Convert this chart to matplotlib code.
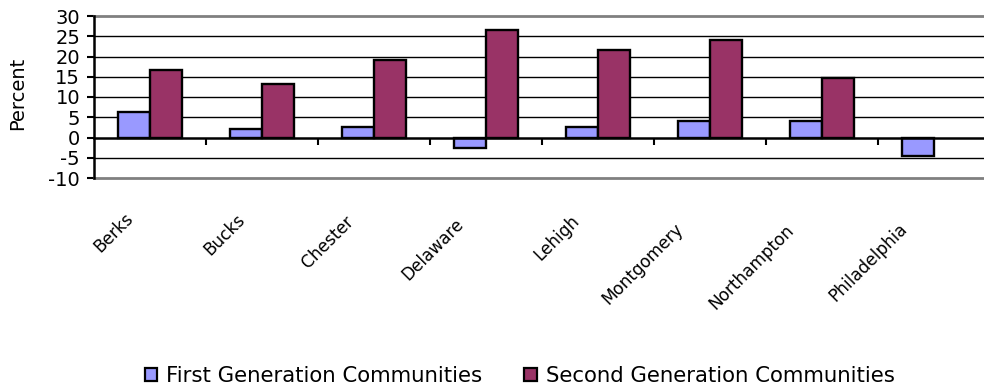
import matplotlib
matplotlib.use("Agg")
import matplotlib.pyplot as plt
from matplotlib.patches import Patch
from matplotlib.transforms import ScaledTranslation
import numpy as np

counties = ["Berks", "Bucks", "Chester", "Delaware", "Lehigh",
            "Montgomery", "Northampton", "Philadelphia"]
first_gen = [6.4, 2.0, 2.5, -2.5, 2.5, 4.0, 4.0, -4.5]
second_gen = [16.6, 13.3, 19.1, 26.6, 21.6, 24.1, 14.8, np.nan]
y_ticks = [-10, -5, 0, 5, 10, 15, 20, 25, 30]
series_names = ["First Generation Communities", "Second Generation Communities"]

first_color = "#9999FF"
second_color = "#993366"
font = "DejaVu Sans"
plt.rcParams["font.family"] = [font]

fig = plt.figure(figsize=(9.84, 3.92), dpi=100)
ax = fig.add_axes([94 / 984, 1 - 178 / 392, 896 / 984, 162 / 392])

x = np.arange(len(counties))
w = 0.286
ax.bar(x - w / 2, first_gen, w, color=first_color, edgecolor="black",
       linewidth=1.7, zorder=3)
ax.bar(x + w / 2, second_gen, w, color=second_color, edgecolor="black",
       linewidth=1.7, zorder=3)

ax.set_xlim(-0.5, len(counties) - 0.5)
ax.set_ylim(-10, 30)

# horizontal gridlines
for v in y_ticks:
    if v in (-10, 30, 0):
        continue
    ax.axhline(v, color="black", linewidth=1.0, zorder=1)
ax.axhline(30, color="#808080", linewidth=2.0, zorder=2, clip_on=False)
ax.axhline(-10, color="#808080", linewidth=2.0, zorder=2, clip_on=False)

for s in ("top", "right"):
    ax.spines[s].set_visible(False)
ax.spines["left"].set_linewidth(1.8)
ax.spines["left"].set_zorder(4)
ax.spines["bottom"].set_position(("data", 0))
ax.spines["bottom"].set_linewidth(1.8)
ax.spines["bottom"].set_zorder(4)

ax.set_yticks(y_ticks)
ax.set_yticklabels([str(v) for v in y_ticks], fontsize=14)
ax.tick_params(axis="y", direction="out", length=5, width=1.5, pad=5)

ax.set_xticks(x)
ax.set_xticks(x[:-1] + 0.5, minor=True)
ax.tick_params(axis="x", which="major", length=0, pad=52)
ax.tick_params(axis="x", which="minor", direction="out", length=5, width=1.5)
ax.set_xticklabels(counties, fontsize=12.2, rotation=45, ha="right",
                   va="top", rotation_mode="anchor")

# longer category names sit a little further down-left along their slant
fig.canvas.draw()
renderer = fig.canvas.get_renderer()
labels = ax.get_xticklabels()
widths = [lbl.get_window_extent(renderer).width for lbl in labels]
base_w = min(widths)
for lbl, wd in zip(labels, widths):
    extra = 0.25 * (wd - base_w)
    shift = ScaledTranslation((-26 - extra) / 100, -extra / 100,
                              fig.dpi_scale_trans)
    lbl.set_transform(lbl.get_transform() + shift)

ax.set_ylabel("Percent", fontsize=14)
ax.yaxis.set_label_coords(-0.075, 0.52)

handles = [Patch(facecolor=first_color, edgecolor="black", linewidth=1.6),
           Patch(facecolor=second_color, edgecolor="black", linewidth=1.6)]
fig.legend(handles, series_names, loc="center", bbox_to_anchor=(0.528, 0.041),
           ncol=2, frameon=False, fontsize=15.3, handlelength=0.6,
           handleheight=0.6, handletextpad=0.4, columnspacing=2.0)

fig.savefig("out.png", dpi=100)
